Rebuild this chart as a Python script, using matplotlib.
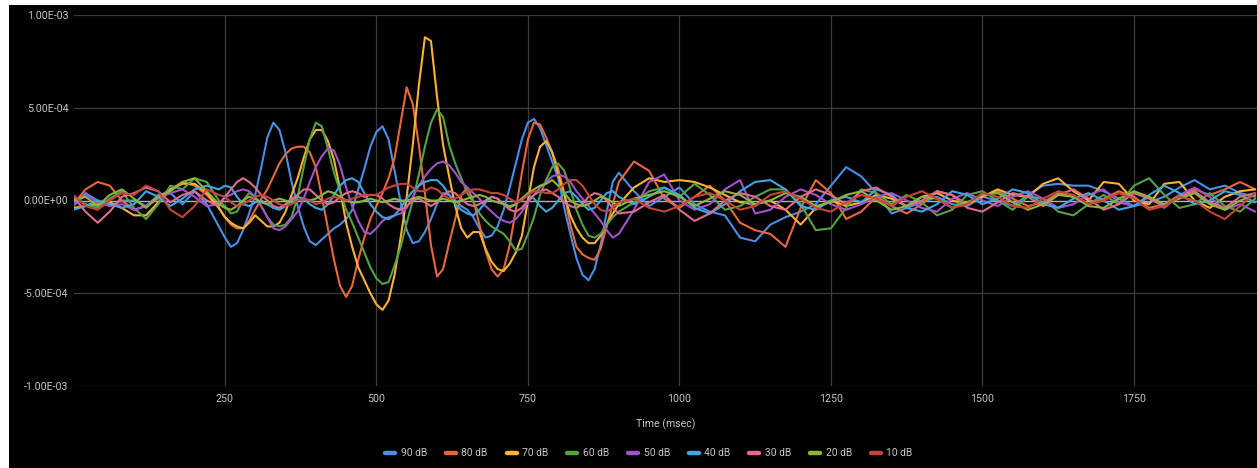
import numpy as np
import matplotlib
matplotlib.use("Agg")
import matplotlib.pyplot as plt
from matplotlib.patches import Rectangle
from matplotlib.ticker import FixedLocator, FuncFormatter

# ---- time grid (msec) ----
time_ms = np.concatenate([np.arange(0, 241, 20), np.arange(250, 901, 10), np.arange(925, 1951, 25)])

labels = ["90 dB", "80 dB", "70 dB", "60 dB", "50 dB", "40 dB", "30 dB", "20 dB", "10 dB"]
colors = ["#4a8ee6", "#e8683c", "#f8b334", "#55a245", "#a352cc", "#3fa7df", "#e06c8c", "#8ab63c", "#c4463a"]

# values in units of 1e-4
db90 = [-0.3, 0.4, 0.0, -0.3, 0.0, 0.0, -0.3, 0.3, 0.4, -0.2, 0.5, -0.2, -1.4,
        -2.0, -2.5, -2.3, -1.6, -0.7, 0.3, 1.8, 3.4, 4.2, 3.8,
        2.6, 1.0, -0.3, -1.4, -2.2, -2.4, -2.1, -1.8, -1.5, -1.3,
        -1.0, -0.5, 0.6, 1.7, 2.9, 3.7, 4.0, 3.3, 1.6, -0.1,
        -1.6, -2.3, -2.2, -1.7, -1.0, -0.2, 0.4, 0.3, 0.0, -0.3,
        -0.5, -0.9, -1.5, -2.0, -1.9, -1.4, -0.5, 0.7, 2.0, 3.3,
        4.2, 4.4, 3.9, 3.0, 2.1, 1.2, -0.4, -1.8, -3.1, -4.0,
        -4.3, -3.7, -2.4, -0.6, 1.0, 1.5,
        0.5, -0.3, 0.2, 0.7, -0.2, -0.6, -0.8, -2.0, -2.2, -1.3,
        -0.9, -0.6, -0.2, 0.8, 1.8, 1.3, 0.4, -0.7, -0.4, -0.1,
        0.2, -0.2, -0.3, 0.2, 0.0, -0.3, 0.3, 0.8, 0.9, 0.8,
        0.8, 0.5, 0.1, -0.3, -0.1, 0.2, 0.7, 1.1, 0.6, 0.8,
        0.4, 0.2]

db80 = [-0.2, 0.6, 1.0, 0.8, 0.0, -0.5, -0.3, 0.2, 0.6, 1.0, 0.8, 0.3, -0.4,
        -0.9, -1.3, -1.5, -1.5, -1.1, -0.5, 0.1, 0.6, 1.3, 2.0,
        2.5, 2.8, 2.9, 2.9, 2.6, 1.8, 0.2, -1.5, -3.2, -4.6,
        -5.2, -4.6, -3.2, -2.0, -1.0, -0.3, 0.4, 1.2, 2.3, 4.2,
        6.1, 5.2, 3.0, 0.4, -2.4, -4.1, -3.7, -2.3, -1.0, 0.3,
        0.7, 0.0, -1.3, -2.7, -3.7, -4.1, -3.7, -2.4, -0.5, 1.5,
        3.3, 4.2, 4.1, 3.4, 2.6, 1.7, 0.4, -1.3, -2.5, -2.9,
        -3.1, -3.2, -2.6, -1.4, -0.2, 1.0,
        2.1, 1.6, 0.1, -0.4, 0.2, 0.8, 0.0, -1.2, -1.6, -1.8,
        -2.5, -0.4, 1.1, 0.4, -1.0, -0.6, 0.2, -0.3, -0.7, -0.2,
        0.5, 0.3, -0.2, 0.2, 0.5, 0.1, -0.3, -0.1, 0.4, 0.2,
        -0.2, 0.1, 0.5, 0.2, -0.4, -0.2, 0.3, 0.6, 0.3, 0.6,
        1.0, 0.6]

db70 = [-0.4, -0.3, -0.2, -0.1, -0.4, -0.8, -0.8, -0.1, 0.6, 0.9, 0.9, 0.4, -0.4,
        -0.9, -1.2, -1.4, -1.5, -1.2, -0.8, -1.1, -1.4, -1.4, -1.2,
        -0.6, 0.3, 1.2, 2.3, 3.3, 3.8, 3.8, 3.2, 2.2, 0.6,
        -1.2, -2.5, -3.6, -4.3, -5.0, -5.6, -5.9, -5.4, -4.0, -2.0,
        0.2, 3.0, 6.2, 8.8, 8.6, 5.6, 3.0, 1.3, -0.3, -1.5,
        -2.0, -1.7, -1.7, -2.6, -3.3, -3.7, -3.8, -3.4, -2.8, -1.9,
        0.0, 1.8, 2.9, 3.2, 2.6, 1.4, 0.3, -0.8, -1.5, -2.0,
        -2.3, -2.3, -1.9, -1.3, -0.7, -0.2,
        0.7, 1.2, 1.0, 1.1, 1.0, 0.7, 0.3, -0.1, -0.2, 0.0,
        -0.5, -1.3, -0.4, 0.0, -0.3, -0.1, 0.3, 0.1, -0.3, 0.2,
        0.4, 0.0, -0.2, 0.2, 0.6, 0.3, 0.2, 0.9, 1.2, 0.5,
        0.0, 1.0, 0.9, 0.0, -0.2, 0.9, 1.0, 0.0, -0.4, 0.2,
        0.5, 0.6]

db60 = [0.2, -0.2, -0.4, 0.1, 0.5, -0.4, -1.0, -0.2, 0.8, 0.6, 1.2, 1.0, 0.0,
        -0.3, -0.7, -0.6, 0.0, 0.4, 0.2, -0.3, -0.9, -1.3, -1.4,
        -1.3, -0.9, 0.2, 1.8, 3.3, 4.2, 4.0, 2.8, 1.5, 0.5,
        -0.5, -1.2, -2.0, -2.8, -3.6, -4.2, -4.5, -4.4, -3.5, -2.5,
        -1.2, 0.0, 1.4, 2.9, 4.2, 4.9, 4.5, 3.0, 2.0, 1.2,
        0.4, -0.1, -0.7, -1.1, -1.4, -1.6, -1.8, -2.2, -2.7, -2.6,
        -1.8, -0.9, 0.3, 1.1, 1.8, 2.0, 1.6, 0.6, -0.5, -1.3,
        -1.9, -2.0, -1.8, -1.3, -0.9, -0.6,
        -0.1, 0.5, 0.7, 0.2, 0.9, 0.3, -0.5, -0.3, 0.2, 0.6,
        0.6, -0.2, -1.6, -1.5, -0.4, 0.6, 0.4, -0.2, 0.3, -0.1,
        -0.8, -0.5, 0.3, 0.5, 0.0, -0.5, 0.2, 0.1, -0.6, -0.8,
        -0.2, 0.3, -0.2, 0.8, 1.2, 0.3, -0.4, -0.2, 0.4, -0.3,
        -0.6, 0.1]

db50 = [-0.2, 0.3, -0.1, -0.3, -0.2, -0.5, -0.3, 0.1, 0.4, 0.6, 0.2, -0.3, -0.2,
        0.2, 0.3, 0.5, 0.6, 0.5, 0.2, -0.3, -0.9, -1.5, -1.6,
        -1.4, -1.0, -0.6, 0.1, 1.0, 1.8, 2.4, 2.8, 2.7, 1.9,
        0.7, -0.3, -1.1, -1.7, -1.8, -1.5, -1.1, -0.9, -0.8, -0.7,
        -0.4, 0.2, 0.8, 1.3, 1.7, 2.0, 2.1, 1.9, 1.5, 1.0,
        0.7, 0.4, 0.1, -0.3, -0.6, -0.9, -1.1, -1.2, -1.0, -0.6,
        -0.1, 0.3, 0.7, 1.0, 1.3, 1.4, 1.3, 1.0, 0.5, 0.1,
        -0.3, -0.7, -1.1, -1.6, -2.0, -1.8,
        -0.5, 1.0, 1.4, 0.0, -0.5, -0.2, 0.6, 1.1, -0.7, -0.5,
        0.2, 0.6, 0.3, -0.2, -0.5, -0.2, 0.2, 0.4, 0.0, -0.4,
        -0.6, 0.1, 0.4, 0.0, -0.3, 0.2, 0.5, 0.1, -0.4, -0.2,
        0.3, 0.6, -0.1, -0.3, 0.2, -0.4, 0.3, 0.7, 0.2, -0.5,
        -0.2, -0.6]

db40 = [-0.5, -0.3, 0.0, -0.2, -0.4, -0.2, 0.5, 0.2, -0.3, 0.1, 0.6, 0.8, 0.6,
        0.8, 0.7, 0.2, -0.2, -0.3, -0.1, 0.0, -0.2, -0.4, -0.5,
        -0.3, 0.0, 0.2, 0.1, -0.2, -0.4, -0.5, -0.2, 0.3, 0.8,
        1.1, 1.2, 1.0, 0.4, -0.2, -0.6, -0.9, -1.0, -0.8, -0.4,
        0.1, 0.5, 0.8, 1.0, 1.1, 1.1, 0.8, 0.3, -0.2, -0.5,
        -0.7, -0.8, -0.5, -0.1, 0.2, 0.1, -0.2, -0.4, -0.2, 0.1,
        0.3, 0.1, -0.3, -0.6, -0.4, 0.0, 0.4, 0.5, 0.2, -0.2,
        -0.5, -0.4, 0.0, 0.4, 0.5, 0.2,
        -0.2, 0.2, 0.7, 0.3, -0.4, -0.7, -0.2, 0.5, 1.0, 1.1,
        0.6, -0.3, -0.5, 0.0, 0.2, -0.1, 0.6, 0.3, -0.4, -0.6,
        -0.2, 0.5, 0.3, -0.2, 0.1, 0.6, 0.4, -0.2, -0.4, 0.1,
        0.4, 0.0, -0.5, -0.3, 0.3, 0.8, 0.4, -0.2, 0.0, 0.5,
        0.3, -0.1]

db30 = [0.2, -0.6, -1.2, -0.6, 0.2, 0.4, 0.7, 0.5, -0.1, 0.3, 0.5, 0.0, -0.3,
        0.2, 0.6, 1.0, 1.2, 1.0, 0.7, 0.3, 0.0, -0.3, -0.4,
        -0.2, 0.1, 0.3, 0.6, 0.6, 0.3, 0.0, -0.2, -0.1, 0.2,
        0.4, 0.5, 0.4, 0.2, 0.3, 0.3, 0.1, -0.2, -0.4, -0.5,
        -0.3, 0.0, 0.1, -0.1, -0.3, -0.1, 0.3, 0.5, 0.4, 0.1,
        -0.2, -0.3, -0.2, 0.0, 0.2, 0.1, -0.2, -0.5, -0.6, -0.4,
        0.0, 0.3, 0.5, 0.6, 0.4, 0.2, -0.1, -0.3, -0.4, -0.2,
        0.2, 0.4, 0.3, 0.0, -0.4, -0.7,
        -0.6, -0.1, 0.3, -0.5, -1.1, -0.7, 0.0, 0.4, 0.2, -0.3,
        -0.5, 0.2, 0.6, 0.3, -0.2, 0.5, 0.7, 0.2, -0.3, 0.0,
        0.5, 0.3, -0.4, -0.6, -0.1, 0.4, 0.2, -0.3, 0.3, 0.6,
        0.1, -0.5, -0.2, 0.4, 0.1, -0.3, 0.2, 0.5, -0.1, -0.4,
        0.2, 0.4]

db20 = [0.0, 0.2, -0.3, 0.3, 0.6, 0.1, -0.4, 0.2, 0.5, 1.0, 1.2, 0.5, -0.2,
        -0.4, -0.5, -0.3, 0.0, 0.2, 0.1, -0.1, -0.2, 0.0, 0.1,
        0.0, -0.1, 0.0, 0.1, 0.0, 0.1, 0.3, 0.5, 0.4, 0.2,
        0.0, -0.1, -0.1, 0.0, 0.1, 0.0, -0.1, 0.0, 0.1, 0.0,
        0.0, 0.1, 0.2, 0.1, 0.0, 0.0, 0.1, 0.0, -0.1, 0.0,
        0.1, 0.2, 0.3, 0.2, 0.0, -0.1, -0.2, -0.3, -0.2, 0.1,
        0.4, 0.6, 0.8, 0.9, 1.1, 0.8, 0.4, 0.0, -0.2, -0.3,
        -0.2, 0.0, 0.2, 0.1, -0.1, -0.3,
        0.1, 0.3, 0.5, 0.2, -0.3, 0.1, 0.5, 0.3, -0.2, 0.0,
        0.4, 0.2, -0.3, -0.1, 0.3, 0.5, 0.0, -0.5, -0.3, 0.2,
        0.1, -0.4, -0.1, 0.3, 0.4, -0.1, -0.5, -0.2, 0.3, 0.2,
        -0.3, -0.4, 0.1, 0.5, 0.2, -0.2, 0.1, 0.4, -0.2, -0.5,
        0.0, 0.3]

db10 = [0.3, -0.3, -0.5, 0.0, 0.4, 0.3, 0.8, 0.5, -0.5, -0.9, -0.3, 0.6, 0.3,
        0.2, -0.1, -0.3, -0.2, 0.0, 0.2, 0.3, 0.2, 0.0, -0.2,
        -0.3, -0.2, 0.0, 0.1, 0.0, -0.2, -0.1, 0.1, 0.2, 0.1,
        0.0, 0.1, 0.2, 0.3, 0.3, 0.3, 0.5, 0.7, 0.8, 0.9,
        0.9, 0.7, 0.5, 0.5, 0.7, 0.6, 0.3, 0.1, 0.1, 0.3,
        0.5, 0.6, 0.6, 0.5, 0.4, 0.4, 0.3, 0.1, -0.1, 0.0,
        0.3, 0.5, 0.5, 0.4, 0.4, 0.6, 0.9, 1.1, 1.1, 0.8,
        0.3, -0.2, -0.5, -0.6, -0.4, -0.1,
        0.1, -0.4, -0.6, -0.3, 0.2, 0.4, 0.0, -0.5, -0.3, 0.3,
        0.5, 0.1, -0.4, -0.6, -0.1, 0.3, 0.1, -0.3, 0.2, 0.5,
        0.1, -0.4, -0.2, 0.4, 0.2, -0.3, -0.4, 0.1, 0.5, 0.3,
        -0.2, 0.0, 0.4, 0.1, -0.5, -0.3, 0.2, 0.0, -0.6, -1.0,
        -0.3, 0.4]

series = [db90, db80, db70, db60, db50, db40, db30, db20, db10]
scale = 1e-4

y_ticks = [-1e-3, -5e-4, 0.0, 5e-4, 1e-3]
x_ticks = [250, 500, 750, 1000, 1250, 1500, 1750]

plt.rcParams["font.family"] = ["Roboto", "DejaVu Sans"]

W, H = 1257, 468
fig = plt.figure(figsize=(W / 100, H / 100), dpi=100)
fig.patch.set_facecolor("white")
bg = Rectangle((9 / W, 0), 1, 1 - 5 / H, transform=fig.transFigure,
               facecolor="black", edgecolor="none", zorder=-10)
fig.add_artist(bg)

ax = fig.add_axes([74 / W, 82 / H, (W - 74) / W, (386 - 15) / H])
ax.set_zorder(1)
ax.set_facecolor("black")
for s in ax.spines.values():
    s.set_visible(False)

for vals, lab, col in zip(series, labels, colors):
    ax.plot(time_ms, np.asarray(vals) * scale, color=col, lw=1.5, label=lab,
            solid_joinstyle="round", solid_capstyle="round", zorder=3)

ax.set_xlim(1, 1953)
ax.set_ylim(-1e-3, 1e-3)
ax.xaxis.set_major_locator(FixedLocator(x_ticks))
ax.yaxis.set_major_locator(FixedLocator(y_ticks))
ax.yaxis.set_major_formatter(FuncFormatter(lambda v, p: ("%.2E" % v) if v != 0 else "0.00E+00"))
ax.grid(True, color="#3d3d3d", lw=0.9, zorder=1)
ax.axhline(0, color="#b0b0b0", lw=1.0, zorder=2)
ax.tick_params(length=0, colors="#c4c4c4", labelsize=7.7)
ax.tick_params(axis="y", pad=4)
ax.tick_params(axis="x", pad=6)

ax.set_xlabel("Time (msec)", color="#c4c4c4", fontsize=7.7, labelpad=10)

leg = ax.legend(loc="upper center", bbox_to_anchor=(0.486, -0.143), ncol=9,
                frameon=False, fontsize=7.4, handlelength=0.95, handletextpad=0.55,
                columnspacing=1.85, labelcolor="#c4c4c4")
for h in leg.get_lines():
    h.set_linewidth(3.2)

fig.savefig("out.png", dpi=100, facecolor=fig.get_facecolor())
